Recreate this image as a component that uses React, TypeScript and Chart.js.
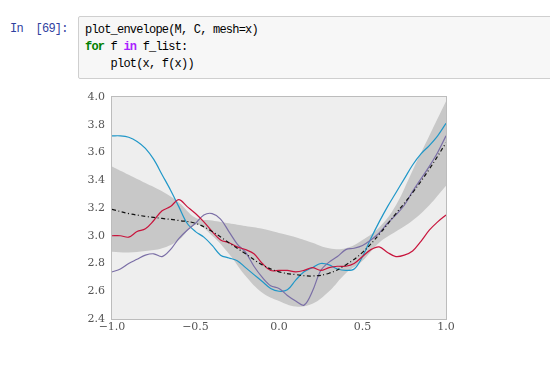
import React, { useEffect, useRef } from "react";
import { Chart, registerables } from "chart.js";

Chart.register(...registerables);

// envelope grid (step 0.1)
const gridX = [-1.0, -0.9, -0.8, -0.7, -0.6, -0.5, -0.4, -0.3, -0.2, -0.1, 0.0, 0.1, 0.2, 0.3, 0.4, 0.5, 0.6, 0.7, 0.8, 0.9, 1.0];
const bandUpper = [3.5, 3.44, 3.38, 3.32, 3.24, 3.13, 3.11, 3.09, 3.07, 3.05, 3.02, 2.99, 2.95, 2.91, 2.91, 2.97, 3.06, 3.22, 3.47, 3.72, 3.97];
const bandLower = [2.885, 2.88, 2.89, 2.91, 2.97, 3.08, 3.0, 2.87, 2.71, 2.59, 2.53, 2.49, 2.51, 2.6, 2.73, 2.82, 2.95, 3.03, 3.11, 3.22, 3.36];
const meanValues = [3.19, 3.16, 3.14, 3.125, 3.11, 3.09, 3.03, 2.95, 2.87, 2.79, 2.74, 2.72, 2.71, 2.73, 2.79, 2.88, 3.01, 3.16, 3.31, 3.48, 3.67];

// sample functions (step 0.05)
const lineX = [-1.0, -0.95, -0.9, -0.85, -0.8, -0.75, -0.7, -0.65, -0.6, -0.55, -0.5, -0.45, -0.4, -0.35, -0.3, -0.25, -0.2, -0.15, -0.1, -0.05, 0.0, 0.05, 0.1, 0.15, 0.2, 0.25, 0.3, 0.35, 0.4, 0.45, 0.5, 0.55, 0.6, 0.65, 0.7, 0.75, 0.8, 0.85, 0.9, 0.95, 1.0];
const blueValues = [3.72, 3.72, 3.71, 3.68, 3.63, 3.55, 3.44, 3.33, 3.21, 3.09, 3.03, 2.99, 2.93, 2.86, 2.84, 2.82, 2.77, 2.72, 2.67, 2.62, 2.6, 2.61, 2.68, 2.74, 2.77, 2.8, 2.79, 2.76, 2.75, 2.76, 2.85, 2.98, 3.1, 3.21, 3.31, 3.41, 3.51, 3.59, 3.65, 3.72, 3.81];
const redValues = [3.0, 3.0, 2.99, 3.03, 3.05, 3.11, 3.18, 3.21, 3.26, 3.21, 3.16, 3.1, 3.03, 2.97, 2.95, 2.92, 2.9, 2.87, 2.8, 2.75, 2.75, 2.75, 2.74, 2.75, 2.77, 2.75, 2.77, 2.78, 2.78, 2.8, 2.85, 2.9, 2.92, 2.88, 2.85, 2.86, 2.89, 2.96, 3.04, 3.1, 3.15];
const purpleValues = [2.74, 2.76, 2.8, 2.83, 2.86, 2.87, 2.85, 2.9, 2.98, 3.04, 3.09, 3.15, 3.16, 3.12, 3.03, 2.94, 2.88, 2.78, 2.7, 2.64, 2.62, 2.57, 2.53, 2.5, 2.6, 2.75, 2.81, 2.85, 2.9, 2.91, 2.93, 2.97, 3.02, 3.09, 3.15, 3.22, 3.32, 3.41, 3.5, 3.6, 3.72];

const xTickValues = [-1.0, -0.5, 0.0, 0.5, 1.0];
const yTickValues = [2.4, 2.6, 2.8, 3.0, 3.2, 3.4, 3.6, 3.8, 4.0];

const toPts = (xs: number[], ys: number[]) => xs.map((x, i) => ({ x, y: ys[i] }));

const fmt = (v: number) => (v < 0 ? "\u2212" : "") + Math.abs(v).toFixed(1);

const framePlugin = {
  id: "frame",
  beforeDraw(chart: any) {
    const { ctx, chartArea: a } = chart;
    ctx.save();
    ctx.fillStyle = "#eeeeee";
    ctx.fillRect(a.left, a.top, a.right - a.left, a.bottom - a.top);
    ctx.restore();
  },
  afterDraw(chart: any) {
    const { ctx, chartArea: a } = chart;
    ctx.save();
    ctx.strokeStyle = "#bcbcbc";
    ctx.lineWidth = 1;
    ctx.strokeRect(Math.round(a.left) - 0.5, Math.round(a.top) - 0.5, Math.round(a.right - a.left) + 1, Math.round(a.bottom - a.top) + 1);
    ctx.restore();
  },
};

const tickFont = { family: "'DejaVu Serif', serif", size: 11 };

function PlotChart() {
  const ref = useRef<HTMLCanvasElement | null>(null);
  useEffect(() => {
    if (!ref.current) return;
    const chart = new Chart(ref.current, {
      type: "line",
      data: {
        datasets: [
          {
            label: "upper",
            data: toPts(gridX, bandUpper),
            borderWidth: 0,
            borderColor: "rgba(0,0,0,0)",
            backgroundColor: "#c8c8c8",
            fill: "+1",
            pointRadius: 0,
            tension: 0.4,
            order: 10,
          },
          {
            label: "lower",
            data: toPts(gridX, bandLower),
            borderWidth: 0,
            borderColor: "rgba(0,0,0,0)",
            fill: false,
            pointRadius: 0,
            tension: 0.4,
            order: 11,
          },
          {
            label: "mean",
            data: toPts(gridX, meanValues),
            borderColor: "#111111",
            borderWidth: 1.2,
            borderDash: [4, 2.5, 1, 2.5],
            fill: false,
            pointRadius: 0,
            tension: 0.4,
            order: 0,
          },
          {
            label: "f1",
            data: toPts(lineX, blueValues),
            borderColor: "#1f97c8",
            borderWidth: 1.2,
            fill: false,
            pointRadius: 0,
            tension: 0.35,
            order: 3,
          },
          {
            label: "f2",
            data: toPts(lineX, redValues),
            borderColor: "#c8143c",
            borderWidth: 1.2,
            fill: false,
            pointRadius: 0,
            tension: 0.35,
            order: 1,
          },
          {
            label: "f3",
            data: toPts(lineX, purpleValues),
            borderColor: "#7a6ea6",
            borderWidth: 1.2,
            fill: false,
            pointRadius: 0,
            tension: 0.35,
            order: 2,
          },
        ],
      },
      options: {
        animation: false,
        responsive: false,
        devicePixelRatio: 1,
        layout: { padding: { left: 0, top: 17, right: 104, bottom: 0 } },
        plugins: { legend: { display: false }, tooltip: { enabled: false } },
        scales: {
          x: {
            type: "linear",
            min: -1,
            max: 1,
            grid: { display: false, drawTicks: false },
            border: { display: false },
            afterBuildTicks: (s: any) => {
              s.ticks = xTickValues.map((v) => ({ value: v }));
            },
            afterFit: (s: any) => {
              s.height = 47;
            },
            ticks: {
              autoSkip: false,
              maxRotation: 0,
              padding: 2,
              color: "#555555",
              font: tickFont,
              callback: (v: any) => fmt(Number(v)),
            },
          },
          y: {
            type: "linear",
            min: 2.4,
            max: 4.0,
            grid: { display: false, drawTicks: false },
            border: { display: false },
            afterBuildTicks: (s: any) => {
              s.ticks = yTickValues.map((v) => ({ value: v }));
            },
            afterFit: (s: any) => {
              s.width = 112;
            },
            ticks: {
              autoSkip: false,
              padding: 7,
              color: "#555555",
              font: tickFont,
              callback: (v: any) => Number(v).toFixed(1),
            },
          },
        },
      },
      plugins: [framePlugin],
    } as any);
    return () => chart.destroy();
  }, []);
  return (
    <canvas
      ref={ref}
      width={550}
      height={286}
      style={{ position: "absolute", left: 0, top: 80, width: 550, height: 286 }}
    />
  );
}

const monoStyle: React.CSSProperties = {
  fontFamily: "'Liberation Mono', monospace",
  fontSize: 12,
  letterSpacing: -0.8,
  lineHeight: "17px",
  whiteSpace: "pre",
};

export default function App() {
  return (
    <div
      style={{
        position: "fixed",
        left: 0,
        top: 0,
        width: 550,
        height: 366,
        background: "#ffffff",
        overflow: "hidden",
      }}
    >
      <div style={{ ...monoStyle, position: "absolute", left: 10, top: 21, color: "#303F9F" }}>
        {"In  [69]:"}
      </div>
      <div
        style={{
          position: "absolute",
          left: 78,
          top: 16,
          width: 480,
          height: 61,
          background: "#f7f7f7",
          border: "1px solid #cfcfcf",
          borderRadius: 2,
        }}
      >
        <div style={{ ...monoStyle, position: "absolute", left: 6, top: 5, color: "#000" }}>
          <div>{"plot_envelope(M, C, mesh=x)"}</div>
          <div>
            <span style={{ color: "#008000", fontWeight: "bold" }}>for</span>
            {" f "}
            <span style={{ color: "#AA22FF", fontWeight: "bold" }}>in</span>
            {" f_list:"}
          </div>
          <div>{"    plot(x, f(x))"}</div>
        </div>
      </div>
      <PlotChart />
    </div>
  );
}
